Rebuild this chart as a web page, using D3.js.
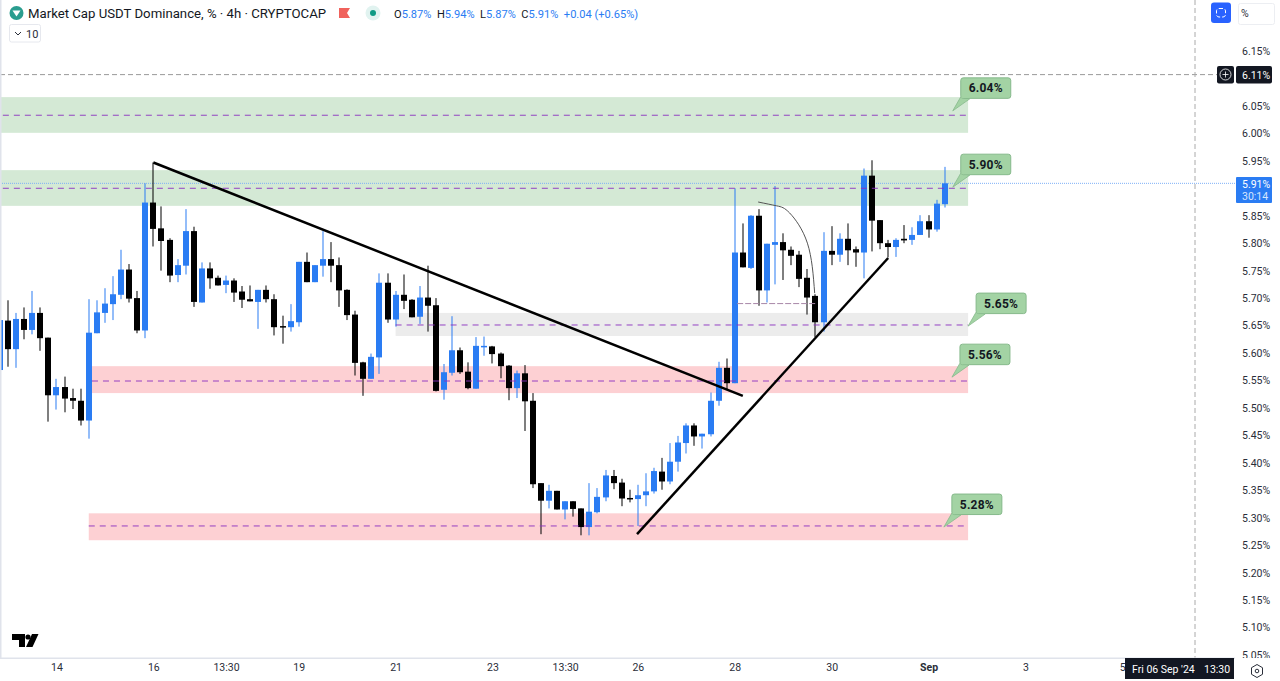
<!DOCTYPE html>
<html>
<head>
<meta charset="utf-8">
<script src="https://cdn.jsdelivr.net/npm/d3@7"></script>
<style>
  html, body { margin: 0; padding: 0; background: #fff; overflow: hidden; }
  svg { display: block; font-family: Roboto, sans-serif; }
  .axis text { font-size: 10.5px; fill: #2a2e39; font-family: Roboto, sans-serif; }
</style>
</head>
<body>
<svg id="chart" width="1280" height="681"></svg>
<script>
// 4h candles
const opens = [
  5.569, 5.659, 5.607, 5.662, 5.642, 5.673, 5.628, 5.523, 5.538, 5.518,
  5.513, 5.477, 5.636, 5.673, 5.689, 5.706, 5.752, 5.700, 5.641, 5.874,
  5.827, 5.806, 5.742, 5.759, 5.822, 5.692, 5.754, 5.737, 5.724, 5.732,
  5.712, 5.698, 5.693, 5.715, 5.698, 5.649, 5.647, 5.656, 5.766, 5.729,
  5.759, 5.771, 5.760, 5.715, 5.670, 5.583, 5.553, 5.592, 5.728, 5.661,
  5.706, 5.697, 5.666, 5.701, 5.687, 5.533, 5.564, 5.605, 5.566, 5.535,
  5.611, 5.612, 5.599, 5.577, 5.536, 5.563, 5.513, 5.363, 5.331, 5.349,
  5.315, 5.330, 5.317, 5.283, 5.310, 5.337, 5.376, 5.364, 5.336, 5.334,
  5.341, 5.348, 5.384, 5.366, 5.402, 5.436, 5.468, 5.448, 5.452, 5.513,
  5.573, 5.545, 5.783, 5.755, 5.850, 5.714, 5.797, 5.802, 5.788, 5.779,
  5.737, 5.704, 5.656, 5.786, 5.779, 5.808, 5.789, 5.783, 5.923, 5.842,
  5.800, 5.793, 5.808, 5.806, 5.815, 5.840, 5.825, 5.871,
]
const highs = [
  5.660, 5.696, 5.673, 5.683, 5.713, 5.683, 5.628, 5.553, 5.557, 5.535,
  5.535, 5.698, 5.696, 5.718, 5.740, 5.788, 5.762, 5.713, 5.909, 5.947,
  5.867, 5.809, 5.771, 5.862, 5.830, 5.765, 5.765, 5.741, 5.741, 5.736,
  5.722, 5.723, 5.715, 5.723, 5.707, 5.668, 5.689, 5.766, 5.783, 5.760,
  5.822, 5.802, 5.774, 5.716, 5.677, 5.584, 5.599, 5.745, 5.745, 5.713,
  5.743, 5.698, 5.722, 5.759, 5.700, 5.580, 5.667, 5.610, 5.583, 5.629,
  5.630, 5.613, 5.601, 5.578, 5.568, 5.578, 5.527, 5.363, 5.360, 5.349,
  5.330, 5.330, 5.317, 5.363, 5.354, 5.387, 5.387, 5.371, 5.351, 5.360,
  5.381, 5.391, 5.409, 5.436, 5.449, 5.472, 5.472, 5.453, 5.528, 5.584,
  5.590, 5.900, 5.836, 5.851, 5.862, 5.799, 5.904, 5.818, 5.794, 5.786,
  5.753, 5.707, 5.820, 5.831, 5.818, 5.836, 5.794, 5.936, 5.951, 5.842,
  5.806, 5.809, 5.833, 5.829, 5.851, 5.851, 5.879, 5.939,
]
const lows = [
  5.566, 5.575, 5.573, 5.625, 5.634, 5.604, 5.475, 5.497, 5.492, 5.498,
  5.468, 5.444, 5.636, 5.655, 5.660, 5.698, 5.692, 5.636, 5.627, 5.794,
  5.750, 5.729, 5.729, 5.743, 5.684, 5.692, 5.717, 5.723, 5.709, 5.693,
  5.682, 5.694, 5.644, 5.692, 5.632, 5.617, 5.639, 5.648, 5.729, 5.729,
  5.739, 5.729, 5.684, 5.660, 5.559, 5.522, 5.553, 5.562, 5.655, 5.648,
  5.680, 5.665, 5.653, 5.639, 5.530, 5.515, 5.559, 5.562, 5.534, 5.535,
  5.595, 5.581, 5.554, 5.514, 5.518, 5.458, 5.354, 5.270, 5.317, 5.315,
  5.297, 5.302, 5.268, 5.268, 5.308, 5.330, 5.352, 5.321, 5.328, 5.285,
  5.321, 5.344, 5.351, 5.361, 5.384, 5.417, 5.431, 5.426, 5.448, 5.504,
  5.533, 5.545, 5.756, 5.753, 5.686, 5.692, 5.725, 5.733, 5.760, 5.720,
  5.670, 5.629, 5.639, 5.760, 5.766, 5.760, 5.757, 5.736, 5.785, 5.789,
  5.774, 5.775, 5.800, 5.797, 5.815, 5.810, 5.821, 5.865,
]
const closes = [
  5.660, 5.607, 5.662, 5.642, 5.673, 5.627, 5.523, 5.538, 5.517, 5.513,
  5.477, 5.637, 5.674, 5.690, 5.707, 5.752, 5.699, 5.641, 5.874, 5.826,
  5.804, 5.741, 5.760, 5.822, 5.693, 5.754, 5.736, 5.723, 5.732, 5.710,
  5.697, 5.694, 5.715, 5.698, 5.647, 5.647, 5.658, 5.766, 5.729, 5.760,
  5.771, 5.759, 5.714, 5.669, 5.582, 5.553, 5.593, 5.728, 5.661, 5.706,
  5.695, 5.665, 5.701, 5.686, 5.531, 5.565, 5.605, 5.565, 5.536, 5.613,
  5.613, 5.598, 5.576, 5.536, 5.563, 5.512, 5.361, 5.331, 5.349, 5.315,
  5.330, 5.316, 5.283, 5.311, 5.338, 5.377, 5.363, 5.335, 5.334, 5.341,
  5.348, 5.385, 5.366, 5.402, 5.437, 5.468, 5.448, 5.453, 5.513, 5.573,
  5.545, 5.783, 5.756, 5.850, 5.714, 5.799, 5.802, 5.787, 5.777, 5.735,
  5.701, 5.656, 5.786, 5.779, 5.808, 5.787, 5.783, 5.923, 5.841, 5.800,
  5.793, 5.806, 5.805, 5.815, 5.840, 5.825, 5.872, 5.909,
]

// axis ticks (6.10 and 5.90 sit under the price tags)
const priceTicks = [6.15, 6.05, 6.00, 5.95, 5.85, 5.80, 5.75, 5.70, 5.65, 5.60, 5.55, 5.50, 5.45, 5.40, 5.35, 5.30, 5.25, 5.20, 5.15, 5.10, 5.05]
const timeTicks = [7, 19, 28, 37, 49, 61, 70, 79, 91, 103, 115, 127, 139]
const timeLabels = ["14", "16", "13:30", "19", "21", "23", "13:30", "26", "28", "30", "Sep", "3", "5"]

// drawn zones
const zoneFrom = [-1, -1, 49, 11.4, 11]
const zoneTop = [6.066, 5.933, 5.673, 5.576, 5.308]
const zoneBottom = [6.001, 5.868, 5.631, 5.527, 5.259]
const zoneMid = [6.033, 5.900, 5.651, 5.549, 5.285]
const zoneFill = ["#d4e9d5", "#d4e9d5", "#ececec", "#fdd0d3", "#fdd0d3"]
const zoneEnd = 119.9

// callouts
const noteLabels = ["6.04%", "5.90%", "5.65%", "5.56%", "5.28%"]
const noteTipIndex = [118, 118, 119.9, 117.9, 116.9]
const noteTipValue = [6.041, 5.902, 5.649, 5.556, 5.283]

// trend lines: [[candle, value], [candle, value]]
const trendDown = [[19, 5.947], [92, 5.522]]
const trendUp = [[78.9, 5.270], [110, 5.773]]
const arcPoints = [[93.9, 5.875], [96.2, 5.868], [97.8, 5.855], [100, 5.800], [100.9, 5.709]]
const shortLine = [[91.3, 5.690], [101, 5.690]]

const crossIndex = 148
const crossValue = 6.107
const lastValue = 5.909

const BLUE = "#2a7cf3"
const DARK = "#131722"
const PLOT_W = 1235
const PLOT_H = 658

const svg = d3.select("#chart")
const x = d3.scaleLinear().domain([0, crossIndex]).range([-0.07, 1195])
const y = d3.scaleLinear().domain([5.05, 6.15]).range([655, 51])
const toLine = d3.line().x(d => x(d[0])).y(d => y(d[1]))
const toCurve = d3.line().x(d => x(d[0])).y(d => y(d[1])).curve(d3.curveNatural)

const defs = svg.append("defs")
defs.append("clipPath").attr("id", "plot").append("rect")
  .attr("width", PLOT_W).attr("height", PLOT_H)
defs.append("clipPath").attr("id", "scale").append("rect")
  .attr("x", -2).attr("width", 40).attr("height", PLOT_H)

const plot = svg.append("g").attr("clip-path", "url(#plot)")

// zones
plot.selectAll("rect.zone").data(zoneTop).join("rect")
  .attr("class", "zone")
  .attr("x", (d, i) => x(zoneFrom[i]))
  .attr("width", (d, i) => x(zoneEnd) - x(zoneFrom[i]))
  .attr("y", d => y(d))
  .attr("height", (d, i) => y(zoneBottom[i]) - y(d))
  .attr("fill", (d, i) => zoneFill[i])

// last price line
plot.append("line")
  .attr("x1", 0).attr("x2", PLOT_W)
  .attr("y1", y(lastValue)).attr("y2", y(lastValue))
  .attr("stroke", "#7db0f7").attr("stroke-dasharray", "1 1")

// candles
const candles = plot.append("g")
  .selectAll("g").data(opens).join("g")
  .attr("fill", (d, i) => closes[i] >= d ? BLUE : "#000")
candles.append("rect")
  .attr("x", (d, i) => Math.round(x(i)) - 0.5)
  .attr("width", 1)
  .attr("y", (d, i) => y(highs[i]))
  .attr("height", (d, i) => y(lows[i]) - y(highs[i]))
candles.append("rect")
  .attr("x", (d, i) => Math.round(x(i)) - 3)
  .attr("width", 6)
  .attr("y", (d, i) => y(Math.max(d, closes[i])))
  .attr("height", (d, i) => Math.max(1.5, Math.abs(y(d) - y(closes[i]))))

// dashed mid lines
plot.selectAll("line.mid").data(zoneMid).join("line")
  .attr("class", "mid")
  .attr("x1", (d, i) => x(zoneFrom[i]))
  .attr("x2", x(zoneEnd))
  .attr("y1", d => y(d))
  .attr("y2", d => y(d))
  .attr("stroke", "#8a2fc0").attr("stroke-width", 0.9)
  .attr("stroke-dasharray", "6 5")

plot.append("path").attr("d", toLine(shortLine))
  .attr("fill", "none").attr("stroke", "#a887a8").attr("stroke-dasharray", "6 2")

// trend lines and the arc
plot.append("path").attr("d", toLine(trendDown))
  .attr("fill", "none").attr("stroke", "#000").attr("stroke-width", 2.5)
plot.append("path").attr("d", toLine(trendUp))
  .attr("fill", "none").attr("stroke", "#000").attr("stroke-width", 2.5)
plot.append("path").attr("d", toCurve(arcPoints))
  .attr("fill", "none").attr("stroke", "#555").attr("stroke-width", 1)

// callouts
const notes = plot.selectAll("g.note").data(noteLabels).join("g")
  .attr("class", "note")
  .attr("transform", (d, i) => `translate(${x(noteTipIndex[i])},${y(noteTipValue[i])})`)
notes.append("path")
  .attr("d", "M0 0L8 -14L17 -12Z")
  .attr("fill", "#a3d3a4").attr("stroke", "#86b98b").attr("stroke-width", 0.8)
notes.append("rect")
  .attr("x", 8).attr("y", -33).attr("width", 50).attr("height", 20.5).attr("rx", 2.5)
  .attr("fill", "#a3d3a4").attr("stroke", "#86b98b").attr("stroke-width", 1)
notes.append("path")
  .attr("d", "M8.6 -13.6L17 -13.6").attr("stroke", "#a3d3a4").attr("stroke-width", 1.4)
notes.append("text")
  .attr("x", 33).attr("y", -18.5).attr("text-anchor", "middle")
  .attr("font-size", 12).attr("font-weight", 700).attr("fill", "#131722")
  .attr("letter-spacing", 0.2)
  .text(d => d)

// crosshair
svg.append("line")
  .attr("x1", 0).attr("x2", PLOT_W - 18)
  .attr("y1", y(crossValue)).attr("y2", y(crossValue))
  .attr("stroke", "#999").attr("stroke-dasharray", "5 3")
svg.append("line")
  .attr("x1", x(crossIndex)).attr("x2", x(crossIndex))
  .attr("y1", 0).attr("y2", PLOT_H)
  .attr("stroke", "#aaa").attr("stroke-dasharray", "5 3")

// pane borders
svg.append("rect").attr("width", 1.5).attr("height", PLOT_H).attr("fill", "#e0e3eb")
svg.append("rect").attr("y", PLOT_H - 0.5).attr("width", PLOT_W).attr("height", 1.5).attr("fill", "#e0e3eb")

// axes
const priceAxis = d3.axisRight(y).tickValues(priceTicks).tickSize(0).tickPadding(0)
  .tickFormat(d => d3.format(".2f")(d) + "%")
svg.append("g").attr("class", "axis")
  .attr("transform", "translate(1242,0)")
  .attr("clip-path", "url(#scale)")
  .call(priceAxis)
  .call(g => g.select(".domain").remove())

const timeAxis = d3.axisBottom(x).tickValues(timeTicks).tickSize(0).tickPadding(0)
  .tickFormat((d, i) => timeLabels[i])
svg.append("g").attr("class", "axis")
  .attr("transform", "translate(0,664)")
  .call(timeAxis)
  .call(g => g.select(".domain").remove())
  .call(g => g.selectAll("text").attr("font-weight", (d, i) => timeLabels[i] === "Sep" ? 700 : 400))

// crosshair tags
svg.append("rect").attr("x", 1125).attr("y", 658).attr("width", 109).attr("height", 21).attr("fill", DARK)
svg.append("text").attr("x", 1132).attr("y", 672.5).attr("font-size", 10.5).attr("fill", "#fff").text("Fri 06 Sep '24")
svg.append("text").attr("x", 1204).attr("y", 672.5).attr("font-size", 10.5).attr("fill", "#fff").text("13:30")

svg.append("rect").attr("x", 1217).attr("y", 66).attr("width", 17).attr("height", 17.5).attr("rx", 2).attr("fill", DARK)
svg.append("circle").attr("cx", 1225.5).attr("cy", 74.5).attr("r", 5.5).attr("fill", "none").attr("stroke", "#fff").attr("stroke-width", 0.8)
svg.append("path").attr("d", "M1222.5 74.5H1228.5M1225.5 71.5V77.5").attr("stroke", "#fff").attr("stroke-width", 0.8)
svg.append("rect").attr("x", 1236).attr("y", 66).attr("width", 36).attr("height", 17.5).attr("rx", 2).attr("fill", DARK)
svg.append("text").attr("x", 1242).attr("y", 78.5).attr("font-size", 10.5).attr("fill", "#fff").text("6.11%")

svg.append("rect").attr("x", 1236).attr("y", 177).attr("width", 36).attr("height", 26).attr("rx", 1).attr("fill", BLUE)
svg.append("text").attr("x", 1242).attr("y", 188).attr("font-size", 10.5).attr("fill", "#fff").text("5.91%")
svg.append("text").attr("x", 1242).attr("y", 199.5).attr("font-size", 10.5).attr("fill", "#d6e6fd").text("30:14")

// top-right buttons
svg.append("rect").attr("x", 1211).attr("y", 2.5).attr("width", 20).attr("height", 20.5).attr("rx", 3).attr("fill", "#2962ff")
svg.append("rect").attr("x", 1216.5).attr("y", 8.5).attr("width", 9).attr("height", 8.5).attr("rx", 2.5)
  .attr("fill", "none").attr("stroke", "#fff").attr("stroke-dasharray", "4 2")
svg.append("rect").attr("x", 1238.5).attr("y", 3.5).attr("width", 36).attr("height", 21).attr("rx", 2)
  .attr("fill", "#fff").attr("stroke", "#eceef2")
svg.append("text").attr("x", 1241).attr("y", 17).attr("font-size", 10.5).attr("fill", "#2a2e39").text("%")

// header
svg.append("circle").attr("cx", 16.5).attr("cy", 13).attr("r", 7).attr("fill", "#2a9d8f")
svg.append("path").attr("d", "M12.5 10.5H20.5L16.5 16.5Z").attr("fill", "#fff")
svg.append("text").attr("x", 28).attr("y", 18).attr("font-size", 13.2).attr("fill", DARK)
  .text("Market Cap USDT Dominance, % · 4h · CRYPTOCAP")
svg.append("path").attr("d", "M339 8H350L347 13L350 18H339Z").attr("fill", "#f0625c")
svg.append("circle").attr("cx", 373).attr("cy", 13).attr("r", 7.5).attr("fill", "#e1f3f0")
svg.append("circle").attr("cx", 373).attr("cy", 13).attr("r", 3).attr("fill", "#0f9a84")

const ohlc = svg.append("text").attr("x", 394).attr("y", 17.5).attr("font-size", 11.1)
const ohlcParts = [["O", DARK], ["5.87% ", BLUE], [" H", DARK], ["5.94% ", BLUE], [" L", DARK], ["5.87% ", BLUE], [" C", DARK], ["5.91% ", BLUE], [" +0.04 (+0.65%)", BLUE]]
ohlcParts.forEach(p => ohlc.append("tspan").attr("fill", p[1]).attr("xml:space", "preserve").text(p[0]))

svg.append("rect").attr("x", 9.5).attr("y", 24.5).attr("width", 31).attr("height", 17.5).attr("rx", 2)
  .attr("fill", "#fff").attr("stroke", "#e6e8ee")
svg.append("path").attr("d", "M15 32L18 35L21 32").attr("fill", "none").attr("stroke", "#2a2e39")
svg.append("text").attr("x", 26).attr("y", 37.5).attr("font-size", 11).attr("fill", "#2a2e39").text("10")

// logo and settings
svg.append("path").attr("d", "M12 634H25V647H19V640H12ZM32 634H38.5L32.5 647H26Z").attr("fill", "#000")
svg.append("circle").attr("cx", 28).attr("cy", 637).attr("r", 2.6).attr("fill", "#000")
svg.append("path").attr("d", "M1257 664.5L1262.5 667.7V674.3L1257 677.5L1251.5 674.3V667.7Z").attr("fill", "none").attr("stroke", "#2a2e39")
svg.append("circle").attr("cx", 1257).attr("cy", 671).attr("r", 1.8).attr("fill", "none").attr("stroke", "#2a2e39")
</script>
</body>
</html>
